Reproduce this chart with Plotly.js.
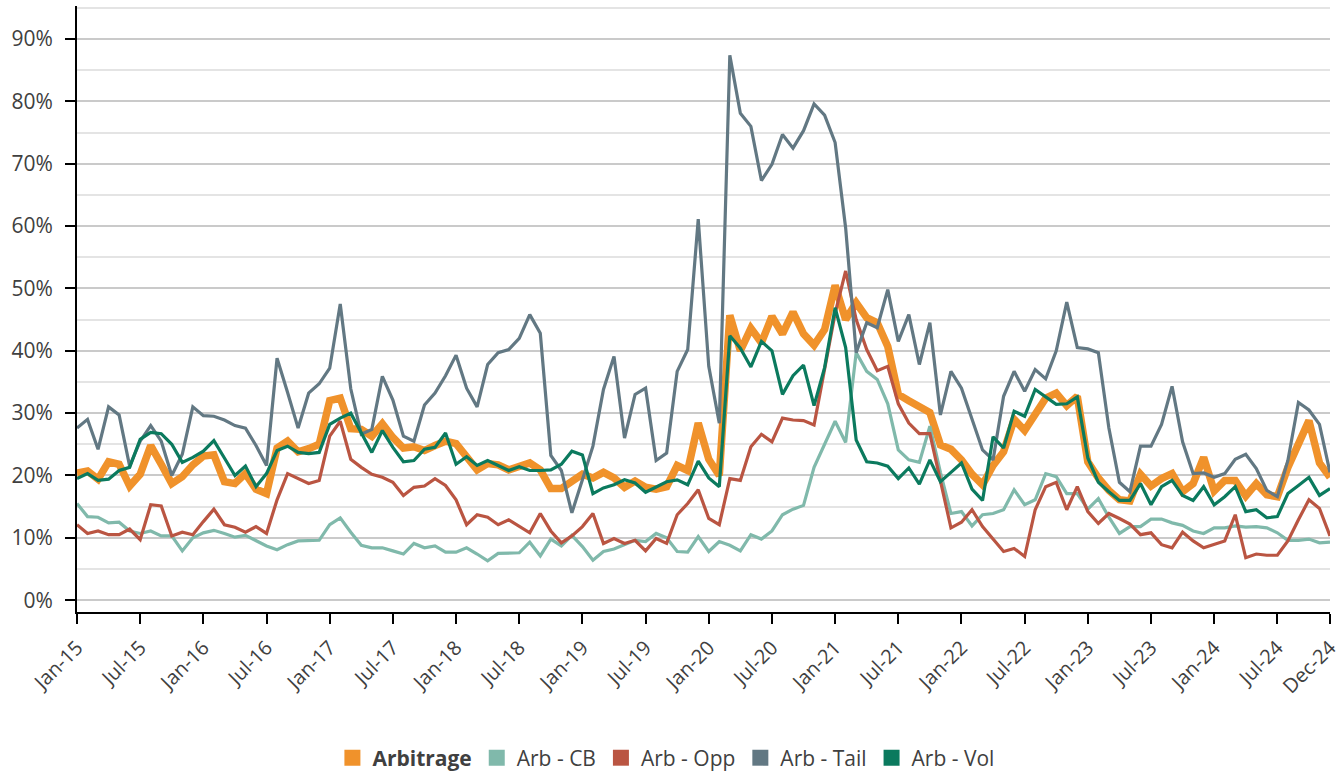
<!DOCTYPE html>
<html>
<head>
<meta charset="utf-8">
<script src="https://cdn.plot.ly/plotly-3.0.1.min.js"></script>
<style>
  html, body { margin: 0; padding: 0; background: #ffffff; }
  #chart { width: 1344px; height: 776px; }
</style>
</head>
<body>
<div id="chart"></div>
<script>
// Monthly categories Jan-15 .. Dec-24
const monthNames = ['Jan','Feb','Mar','Apr','May','Jun','Jul','Aug','Sep','Oct','Nov','Dec'];
const years = ['15','16','17','18','19','20','21','22','23','24'];
const categories = [];
years.forEach(y => monthNames.forEach(m => categories.push(m + '-' + y)));

const tickLabels = ['Jan-15','Jul-15','Jan-16','Jul-16','Jan-17','Jul-17','Jan-18','Jul-18',
  'Jan-19','Jul-19','Jan-20','Jul-20','Jan-21','Jul-21','Jan-22','Jul-22','Jan-23','Jul-23',
  'Jan-24','Jul-24','Dec-24'];

const seriesNames = ['Arbitrage','Arb - CB','Arb - Opp','Arb - Tail','Arb - Vol'];

const arbitrage = [
  20.4, 20.7, 19.4, 22.2, 21.8, 18.3, 20.2, 24.8, 21.8, 18.7, 19.8, 21.7,
  23.1, 23.3, 19.0, 18.7, 20.3, 17.8, 17.1, 24.4, 25.5, 23.8, 24.3, 25.0,
  32.0, 32.4, 27.5, 27.4, 26.3, 28.3, 26.1, 24.4, 24.6, 24.0, 24.8, 25.5,
  25.1, 22.8, 20.9, 21.9, 21.7, 20.9, 21.4, 22.0, 20.9, 17.9, 17.9, 19.2,
  20.2, 19.6, 20.5, 19.6, 18.1, 19.1, 18.1, 17.8, 18.2, 21.6, 20.8, 28.4,
  22.6, 20.0, 45.7, 40.0, 43.6, 41.3, 45.5, 42.7, 46.2, 42.7, 40.9, 43.4,
  50.5, 45.0, 47.7, 45.3, 44.5, 40.7, 33.0, 32.0, 30.9, 30.1, 24.9, 24.2,
  22.5, 20.2, 18.5, 21.6, 23.8, 29.0, 27.2, 29.7, 32.4, 33.2, 31.2, 32.7,
  22.2, 19.6, 17.6, 16.1, 15.9, 20.2, 18.3, 19.5, 20.3, 17.4, 18.7, 22.9,
  17.5, 19.2, 19.2, 16.7, 18.7, 16.9, 16.6, 21.3, 25.0, 28.8, 22.0, 19.7
];

const arbCB = [
  15.5, 13.4, 13.3, 12.4, 12.5, 11.1, 10.7, 11.1, 10.3, 10.3, 7.9, 10.0,
  10.8, 11.2, 10.7, 10.1, 10.4, 9.5, 8.7, 8.1, 8.9, 9.5, 9.5, 9.6,
  12.1, 13.2, 10.9, 8.8, 8.4, 8.4, 7.9, 7.4, 9.1, 8.4, 8.7, 7.7,
  7.7, 8.4, 7.4, 6.3, 7.5, 7.5, 7.6, 9.3, 7.1, 9.8, 8.7, 10.4,
  8.6, 6.4, 7.8, 8.2, 8.9, 9.6, 9.4, 10.7, 10.0, 7.8, 7.7, 10.2,
  7.8, 9.4, 8.8, 7.9, 10.5, 9.8, 11.1, 13.7, 14.6, 15.2, 21.3, 24.9,
  28.7, 25.3, 39.7, 36.7, 35.4, 31.5, 24.1, 22.5, 22.1, 27.9, 20.5, 13.9,
  14.2, 11.9, 13.7, 13.9, 14.5, 17.7, 15.3, 16.1, 20.3, 19.8, 17.1, 17.1,
  14.6, 16.3, 13.3, 10.7, 11.8, 11.8, 13.0, 13.0, 12.4, 12.0, 11.1, 10.7,
  11.6, 11.6, 11.9, 11.7, 11.8, 11.6, 10.8, 9.6, 9.6, 9.8, 9.2, 9.3
];

const arbOpp = [
  12.1, 10.7, 11.1, 10.5, 10.5, 11.4, 9.7, 15.3, 15.1, 10.3, 10.9, 10.5,
  12.6, 14.6, 12.1, 11.7, 10.9, 11.8, 10.7, 16.1, 20.3, 19.5, 18.7, 19.2,
  26.3, 28.7, 22.6, 21.3, 20.2, 19.7, 18.9, 16.8, 18.1, 18.3, 19.5, 18.4,
  16.1, 12.1, 13.7, 13.3, 12.1, 12.9, 11.8, 10.8, 13.9, 11.1, 9.2, 10.3,
  11.8, 13.9, 9.1, 9.9, 9.1, 9.6, 7.9, 9.9, 9.1, 13.7, 15.5, 17.7,
  13.1, 12.1, 19.5, 19.2, 24.6, 26.6, 25.4, 29.2, 28.9, 28.8, 28.1, 37.0,
  46.0, 52.8, 45.0, 40.2, 36.8, 37.5, 31.5, 28.4, 26.7, 26.7, 19.0, 11.6,
  12.5, 14.5, 11.8, 9.8, 7.8, 8.3, 7.0, 14.5, 18.2, 18.9, 14.5, 18.2,
  14.2, 12.3, 13.9, 13.1, 12.2, 10.5, 10.8, 8.9, 8.4, 10.9, 9.5, 8.4,
  8.9, 9.5, 13.7, 6.8, 7.4, 7.2, 7.2, 9.5, 12.9, 16.1, 14.7, 10.3
];

const arbTail = [
  27.6, 29.0, 24.2, 31.0, 29.7, 21.5, 25.5, 28.0, 25.5, 20.0, 23.4, 31.0,
  29.6, 29.5, 28.9, 28.0, 27.6, 24.8, 21.6, 38.8, 33.3, 27.6, 33.2, 34.7,
  37.2, 47.5, 33.9, 26.6, 27.4, 35.9, 32.1, 26.3, 25.5, 31.3, 33.2, 36.0,
  39.3, 34.0, 31.0, 37.8, 39.7, 40.2, 42.0, 45.8, 42.8, 23.2, 20.8, 14.0,
  19.3, 24.7, 33.8, 39.1, 26.0, 33.0, 34.0, 22.4, 23.6, 36.7, 40.2, 61.1,
  37.5, 28.4, 87.4, 78.1, 76.0, 67.3, 69.9, 74.7, 72.5, 75.3, 79.6, 77.8,
  73.4, 59.7, 39.7, 44.5, 43.7, 49.8, 41.5, 45.8, 37.8, 44.5, 29.7, 36.7,
  34.0, 28.9, 24.1, 22.5, 32.7, 36.7, 33.5, 37.0, 35.5, 40.0, 47.8, 40.5,
  40.3, 39.7, 27.6, 18.9, 17.4, 24.7, 24.7, 28.2, 34.3, 25.4, 20.3, 20.4,
  19.7, 20.3, 22.6, 23.4, 21.1, 17.6, 16.6, 22.4, 31.7, 30.5, 28.2, 20.5
];

const arbVol = [
  19.5, 20.3, 19.2, 19.4, 20.8, 21.3, 25.8, 26.9, 26.7, 25.0, 22.1, 22.9,
  23.9, 25.6, 22.8, 20.0, 21.5, 18.2, 20.3, 24.0, 24.7, 23.7, 23.5, 23.7,
  28.2, 29.2, 30.0, 26.8, 23.7, 27.2, 24.5, 22.2, 22.4, 24.2, 24.5, 26.8,
  21.8, 23.0, 21.6, 22.4, 21.6, 20.8, 21.4, 20.8, 20.8, 20.9, 21.8, 23.9,
  23.3, 17.1, 18.0, 18.5, 19.3, 18.8, 17.3, 18.2, 19.0, 19.3, 18.5, 22.3,
  19.6, 18.2, 42.4, 40.4, 37.4, 41.5, 40.0, 33.0, 36.0, 37.7, 31.2, 37.3,
  46.9, 40.5, 25.7, 22.2, 22.0, 21.5, 19.5, 21.2, 18.6, 22.5, 19.0, 20.5,
  22.0, 17.8, 16.0, 26.2, 24.4, 30.3, 29.5, 33.8, 32.6, 31.4, 31.5, 32.6,
  22.8, 18.9, 17.4, 16.0, 16.0, 18.7, 15.3, 18.2, 19.2, 16.8, 16.0, 18.2,
  15.3, 16.6, 18.2, 14.2, 14.5, 13.2, 13.4, 17.1, 18.4, 19.7, 16.8, 17.9
];

const seriesValues = [arbitrage, arbCB, arbOpp, arbTail, arbVol];
const seriesColors = ['#F0922B', '#80B9AB', '#BA5542', '#627883', '#0B7A5E'];
const seriesWidths = [7.5, 3.2, 3.2, 3.2, 3.2];

const FONT = '"Open Sans", "Noto Sans", sans-serif';

const traces = [];
// line traces (no legend entry)
seriesValues.forEach((vals, k) => {
  traces.push({
    type: 'scatter', mode: 'lines',
    x: categories, y: vals,
    name: seriesNames[k],
    line: { color: seriesColors[k], width: seriesWidths[k] },
    showlegend: false,
    hoverinfo: 'skip'
  });
});
// legend entries with square swatches
seriesNames.forEach((nm, k) => {
  traces.push({
    type: 'scatter', mode: 'markers',
    x: [null], y: [null],
    name: k === 0 ? '<b>' + nm + '</b>' : nm,
    marker: { symbol: 'square', size: 16, color: seriesColors[k] },
    showlegend: true,
    hoverinfo: 'skip'
  });
});

const layout = {
  width: 1344, height: 776,
  paper_bgcolor: '#ffffff', plot_bgcolor: '#ffffff',
  margin: { l: 77, r: 14, t: 6, b: 164, pad: 0, autoexpand: false },
  font: { family: FONT, size: 20, color: '#404040' },
  showlegend: true,
  legend: {
    orientation: 'h', x: 0.47, xanchor: 'center', y: -0.241, yanchor: 'middle',
    font: { family: FONT, size: 21, color: '#404040' },
    itemwidth: 30, tracegroupgap: 0, bgcolor: 'rgba(0,0,0,0)'
  },
  xaxis: {
    type: 'category',
    range: [0, 119],
    automargin: false,
    tickmode: 'array', tickvals: tickLabels, ticktext: tickLabels,
    tickangle: -45,
    tickfont: { family: FONT, size: 20, color: '#404040' },
    ticks: 'outside', ticklen: 10, tickwidth: 2, tickcolor: '#000000',
    ticklabelstandoff: 4,
    showline: true, linecolor: '#000000', linewidth: 2,
    showgrid: false, zeroline: false, fixedrange: true
  },
  yaxis: {
    range: [-1.9, 95.3],
    automargin: false,
    tickmode: 'linear', tick0: 0, dtick: 10,
    ticksuffix: '%',
    tickfont: { family: FONT, size: 21, color: '#404040' },
    ticks: 'outside', ticklen: 10, tickwidth: 2, tickcolor: '#000000',
    ticklabelstandoff: 8,
    showline: true, linecolor: '#000000', linewidth: 2,
    showgrid: true, gridcolor: '#cacaca', gridwidth: 2,
    minor: { dtick: 5, tick0: 0, showgrid: true, gridcolor: '#e4e4e4', gridwidth: 2, ticks: '' },
    zeroline: false, fixedrange: true
  }
};

Plotly.newPlot('chart', traces, layout, { displayModeBar: false, staticPlot: true });
</script>
</body>
</html>
